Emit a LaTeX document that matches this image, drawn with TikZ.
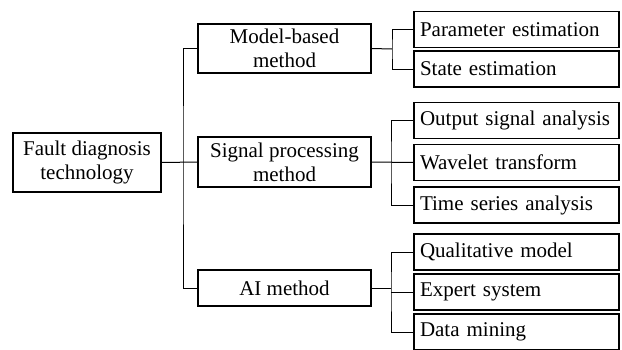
\documentclass[tikz,border=0pt]{standalone}
\usepackage{fontspec}
\setmainfont{Liberation Serif}
\usepackage{tikz}

\begin{document}
\begin{tikzpicture}[x=1pt, y=-1pt,
    box/.style={draw, line width=1.1pt, inner sep=0pt, font=\fontsize{21}{24}\selectfont},
    midbox/.style={box, minimum width=173pt, align=center},
    leafbox/.style={box, minimum height=36pt, text width=193pt, inner xsep=6pt, align=left},
    link/.style={line width=1pt}]
    \useasboundingbox (0,0) rectangle (622,349);

    % Root
    \node[box, minimum width=148pt, minimum height=59pt, align=center] (root) at (87,162.5) {Fault diagnosis\\technology};

    % Methods
    \node[midbox, minimum height=49pt] (model) at (284.5,48.5) {Model-based\\method};
    \node[midbox, minimum height=50pt] (signal) at (284.5,162) {Signal processing\\method};
    \node[midbox, minimum height=36pt] (ai) at (284.5,288) {AI method};

    % Leaves
    \node[leafbox] (param) at (516.5,29.5) {Parameter estimation};
    \node[leafbox] (state) at (516.5,69) {State estimation};
    \node[leafbox] (output) at (516.5,120.5) {Output signal analysis};
    \node[leafbox] (wavelet) at (516.5,162.5) {Wavelet transform};
    \node[leafbox] (series) at (516.5,205) {Time series analysis};
    \node[leafbox] (qual) at (516.5,252) {Qualitative model};
    \node[leafbox] (expert) at (516.5,292) {Expert system};
    \node[leafbox] (mining) at (516.5,332) {Data mining};

    % Branch points
    \coordinate (trunk) at (183,162);
    \coordinate (bmodel) at (392,49);
    \coordinate (bsignal) at (391,162);
    \coordinate (bai) at (391,291);

    % Connectors
    \draw[link] (root.east) -- (signal.west);
    \draw[link] (model.west) -| (trunk) |- (ai.west);

    \draw[link] (model.east) -- (bmodel);
    \draw[link] (param.west) -| (bmodel) |- (state.west);

    \draw[link] (signal.east) -- (wavelet.west);
    \draw[link] (output.west) -| (bsignal) |- (series.west);

    \draw[link] (ai.east) -- (ai.east -| bai);
    \draw[link] (expert.west) -- (expert.west -| bai);
    \draw[link] (qual.west) -| (bai) |- (mining.west);

\end{tikzpicture}
\end{document}
